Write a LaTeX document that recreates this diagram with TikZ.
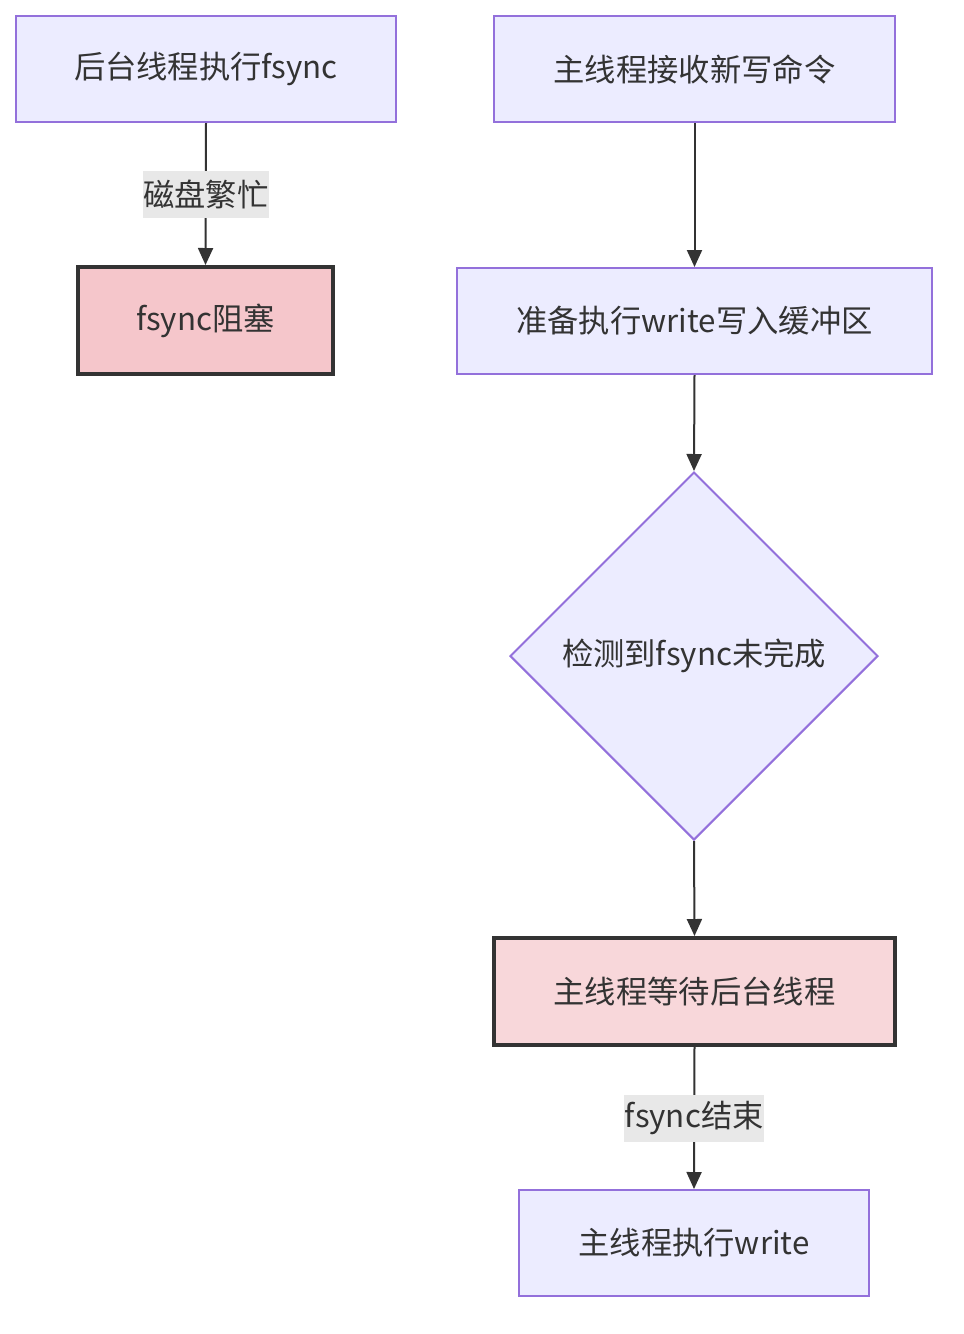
\documentclass[tikz,border=0pt]{standalone}
\usepackage{fontspec}
\setmainfont{Noto Sans CJK SC}
\usetikzlibrary{shapes.geometric,arrows.meta}
\definecolor{nfill}{HTML}{ECECFF}
\definecolor{nstroke}{HTML}{9370DB}
\definecolor{pinkA}{HTML}{F5C6CB}
\definecolor{pinkB}{HTML}{F8D7DA}
\definecolor{ink}{HTML}{333333}
\definecolor{lblbg}{HTML}{E8E8E8}
\tikzset{
  base/.style={inner sep=0pt, text=ink, font=\fontsize{31.3}{37}\selectfont},
  procbox/.style={base, rectangle, draw=nstroke, fill=nfill, line width=2pt},
  warnbox/.style={base, rectangle, draw=ink, line width=4pt},
  decide/.style={base, diamond, aspect=1, draw=nstroke, fill=nfill, line width=2pt, minimum width=368pt, minimum height=368pt},
  edge/.style={draw=ink, line width=2pt, -{Triangle[length=17pt,width=15pt]}},
  elabel/.style={base, fill=lblbg, minimum height=47pt, inner xsep=0.5pt}
}
\begin{document}
\begin{tikzpicture}[x=1pt,y=-1pt]
\useasboundingbox (0,0) rectangle (964,1334);
\node[procbox, minimum width=380pt, minimum height=106pt] (a) at (206,69) {后台线程执行fsync};
\node[warnbox, fill=pinkA, minimum width=255pt, minimum height=107pt] (b) at (205.5,320.5) {fsync阻塞};
\node[procbox, minimum width=401pt, minimum height=106pt] (c) at (694.5,69) {主线程接收新写命令};
\node[procbox, minimum width=475pt, minimum height=106pt] (d) at (694.5,321) {准备执行write写入缓冲区};
\node[decide] (e) at (694,656) {检测到fsync未完成};
\node[warnbox, fill=pinkB, minimum width=401pt, minimum height=107pt] (f) at (694.5,991.5) {主线程等待后台线程};
\node[procbox, minimum width=350pt, minimum height=106pt] (g) at (694,1243) {主线程执行write};
\draw[edge] (a.south) -- node[elabel] {磁盘繁忙} (b.north);
\draw[edge] (c.south) -- (d.north);
\draw[edge] (d.south) -- (e.north);
\draw[edge] (e.south) -- (f.north);
\draw[edge] (f.south) -- node[elabel] {fsync结束} (g.north);
\end{tikzpicture}
\end{document}
